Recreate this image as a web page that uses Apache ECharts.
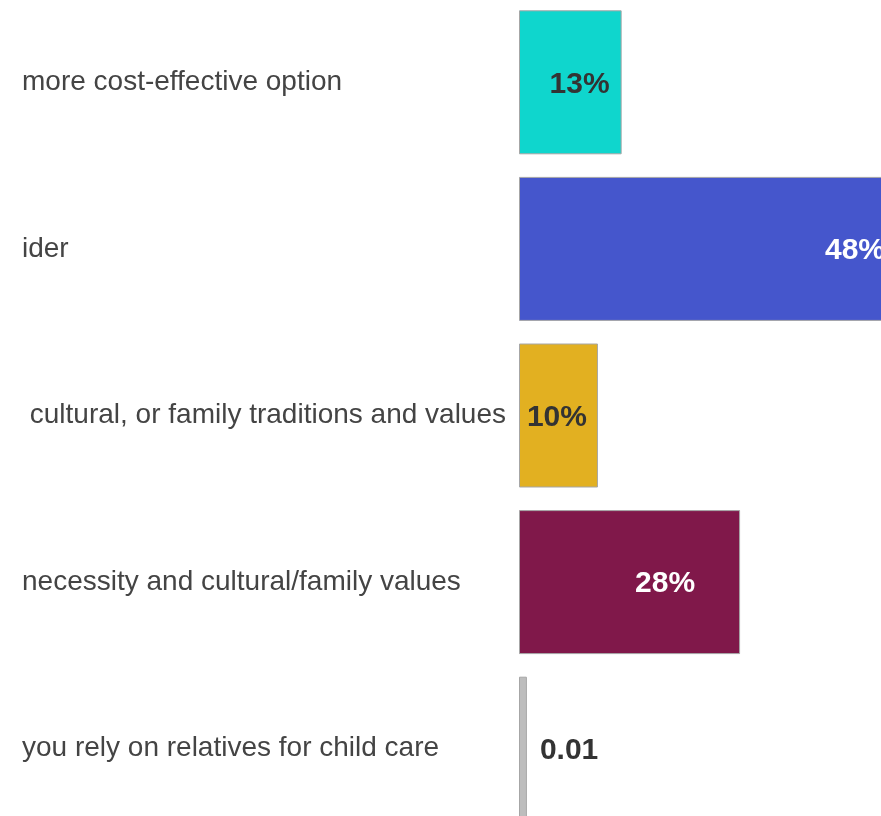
<!DOCTYPE html>
<html>
<head>
<meta charset="utf-8">
<script src="https://cdn.jsdelivr.net/npm/echarts@6/dist/echarts.min.js"></script>
<style>
  html, body { margin: 0; padding: 0; background: #fff; overflow: hidden; }
  #chart { position: absolute; left: 22px; top: 0; width: 859px; height: 816px; }
</style>
</head>
<body>
<div id="chart"></div>
<script>
// categories, top to bottom (left side of the labels is cut off in the source)
var categories = [
  "more cost-effective option",
  "ider",
  " cultural, or family traditions and values",
  "necessity and cultural/family values",
  "you rely on relatives for child care"
];
var values = [0.13, 0.48, 0.10, 0.28, 0.01];
var valueLabels = ["13%", "48%", "10%", "28%", "0.01"];
var barColors = ["#0fd6cd", "#4556cc", "#e2b021", "#80184a", "#bdbdbd"];

// label look per bar
var labelColors = ["#333333", "#ffffff", "#333333", "#ffffff", "#333333"];
var labelPlace = ["insideRight", "insideRight", "insideRight", "insideRight", "right"];
var labelGap = [12, 13, 11, 45, 13];

var chart = echarts.init(document.getElementById("chart"));

var barData = values.map(function (v, i) {
  return {
    value: v,
    itemStyle: { color: barColors[i] },
    label: {
      position: labelPlace[i],
      distance: labelGap[i],
      color: labelColors[i]
    }
  };
});

var option = {
  animation: false,
  backgroundColor: "#ffffff",
  grid: {
    left: 497,
    right: -17,
    top: -1,
    bottom: -16,
    containLabel: false,
    outerBoundsMode: "none"
  },
  xAxis: {
    type: "value",
    min: 0,
    max: 0.48,
    show: false
  },
  yAxis: {
    type: "category",
    inverse: true,
    data: categories,
    axisLine: { show: false },
    axisTick: { show: false },
    splitLine: { show: false },
    axisLabel: {
      align: "left",
      margin: 497,
      color: "#444444",
      fontFamily: "Liberation Sans, Arial, sans-serif",
      fontSize: 28,
      padding: [4, 0, 0, 0]
    }
  },
  series: [
    {
      type: "bar",
      data: barData,
      barWidth: 144,
      itemStyle: { borderColor: "#a6a6a6", borderWidth: 1 },
      label: {
        show: true,
        fontFamily: "Liberation Sans, Arial, sans-serif",
        fontWeight: "bold",
        fontSize: 30,
        offset: [0, 2],
        formatter: function (p) {
          return valueLabels[p.dataIndex];
        }
      }
    }
  ]
};

chart.setOption(option);
</script>
</body>
</html>
